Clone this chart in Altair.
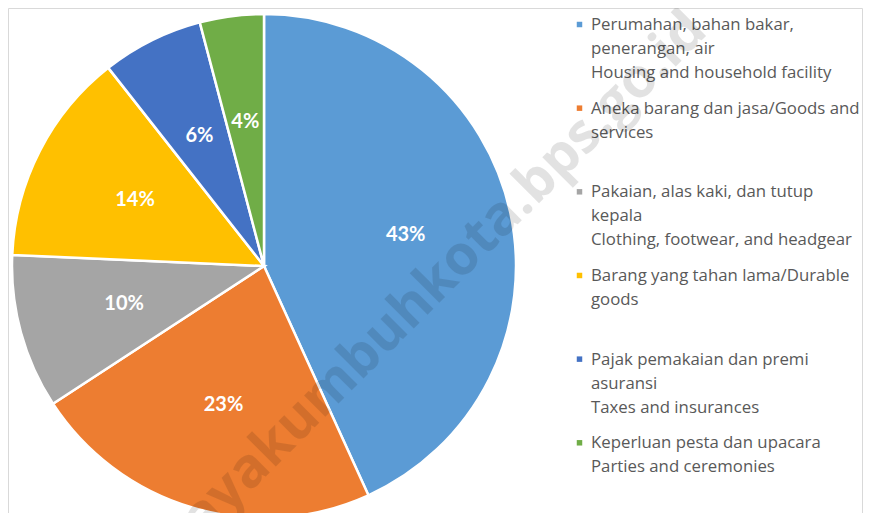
import altair as alt
import pandas as pd

categories = [
    "Perumahan, bahan bakar, penerangan, air",
    "Aneka barang dan jasa",
    "Pakaian, alas kaki, dan tutup kepala",
    "Barang yang tahan lama",
    "Pajak pemakaian dan premi asuransi",
    "Keperluan pesta dan upacara",
]
shares = [43.2, 22.6, 9.9, 13.7, 6.5, 4.1]
pct_labels = ["43%", "23%", "10%", "14%", "6%", "4%"]
colors = ["#5B9BD5", "#ED7D31", "#A5A5A5", "#FFC000", "#4472C4", "#70AD47"]
legend_lines = [
    ["Perumahan, bahan bakar,", "penerangan, air", "Housing and household facility"],
    ["Aneka barang dan jasa/Goods and", "services"],
    ["Pakaian, alas kaki, dan tutup", "kepala", "Clothing, footwear, and headgear"],
    ["Barang yang tahan lama/Durable", "goods"],
    ["Pajak pemakaian dan premi", "asuransi", "Taxes and insurances"],
    ["Keperluan pesta dan upacara", "Parties and ceremonies"],
]
watermark = "payakumbuhkota.bps.go.id"

pie_df = pd.DataFrame({
    "order": list(range(len(categories))),
    "category": categories,
    "share": shares,
    "label": pct_labels,
})

leg_rows = []
for i, (cat, lines) in enumerate(zip(categories, legend_lines)):
    for j, t in enumerate(lines):
        leg_rows.append({"entry": i, "line": j, "text": t, "category": cat})
leg_df = pd.DataFrame(leg_rows)
mark_df = pd.DataFrame({"entry": list(range(len(categories))), "category": categories})

CX, CY, R = 256, 258, 252
color_scale = alt.Scale(domain=categories, range=colors)

pie = alt.Chart(pie_df).mark_arc(outerRadius=R, stroke="white", strokeWidth=2.5).encode(
    theta=alt.Theta("share:Q", stack=True),
    order=alt.Order("order:Q"),
    color=alt.Color("category:N", scale=color_scale, legend=None),
    x=alt.value(CX),
    y=alt.value(CY),
)

labels = alt.Chart(pie_df).mark_text(
    radius=145, font="Lato", fontSize=20, fontWeight="bold", color="white"
).encode(
    theta=alt.Theta("share:Q", stack=True),
    order=alt.Order("order:Q"),
    text="label:N",
    x=alt.value(CX),
    y=alt.value(CY),
)

yscale = alt.Scale(type="point", range=[22, 22 + 83.66 * 5], padding=0)

leg_text = alt.Chart(leg_df).mark_text(
    align="left", baseline="alphabetic", font="Open Sans", fontSize=16.8, color="#595959"
).encode(
    x=alt.value(583),
    y=alt.Y("entry:O", scale=yscale, axis=None),
    yOffset=alt.YOffset("line:O", scale=alt.Scale(type="point", range=[0, 48], padding=0)),
    text="text:N",
)

leg_marks = alt.Chart(mark_df).mark_square(size=30, yOffset=-5.5, opacity=1).encode(
    x=alt.value(571.5),
    y=alt.Y("entry:O", scale=yscale, axis=None),
    color=alt.Color("category:N", scale=color_scale, legend=None),
)

wm = alt.Chart(pd.DataFrame({"t": [watermark]})).mark_text(
    font="Open Sans", fontSize=55, fontWeight="bold", angle=315, fill="#000000", opacity=0.11
).encode(
    text="t:N",
    x=alt.value(424),
    y=alt.value(278),
)

one = alt.Data(values=[{}])
border_top = alt.Chart(one).mark_rule(color="#d9d9d9").encode(
    x=alt.value(0.5), x2=alt.value(854.5), y=alt.value(0.5))
border_left = alt.Chart(one).mark_rule(color="#d9d9d9").encode(
    x=alt.value(0.5), y=alt.value(0.5), y2=alt.value(505))
border_right = alt.Chart(one).mark_rule(color="#d9d9d9").encode(
    x=alt.value(854.5), y=alt.value(0.5), y2=alt.value(505))

chart = alt.layer(
    border_top, border_left, border_right, pie, leg_marks, leg_text, wm, labels
).properties(
    width=855, height=505, padding=0,
    autosize=alt.AutoSizeParams(type="none"),
    background="white",
).configure_view(stroke=None)

chart.save("out.html", embed_options={"renderer": "svg", "actions": False})
